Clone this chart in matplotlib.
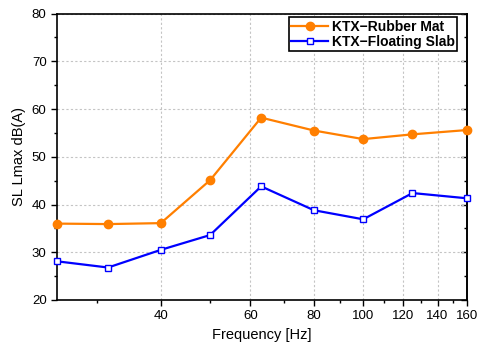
import matplotlib
matplotlib.use('Agg')
import matplotlib.pyplot as plt
import matplotlib.ticker as mticker

plt.rcParams['font.family'] = ['Liberation Sans', 'DejaVu Sans']

# 1/3 octave band centre frequencies
freq = [25, 31.5, 40, 50, 63, 80, 100, 125, 160]
rubber_mat = [36.0, 35.9, 36.1, 45.1, 58.2, 55.5, 53.7, 54.7, 55.6]
floating_slab = [28.1, 26.8, 30.5, 33.6, 43.8, 38.8, 36.9, 42.4, 41.3]

x_ticks = [40, 60, 80, 100, 120, 140, 160]
x_minor = [30, 50, 70, 90, 110, 130, 150]

fig = plt.figure(figsize=(4.79, 3.48), dpi=100)
ax = fig.add_axes([0.119, 0.138, 0.856, 0.823])

ax.plot(freq, rubber_mat, '-o', color='#ff7f00', lw=1.6, ms=6,
        label='KTX−Rubber Mat', clip_on=False, zorder=3)
ax.plot(freq, floating_slab, '-s', color='#0000ff', lw=1.6, ms=5,
        mfc='white', mec='#0000ff', mew=1.0,
        label='KTX−Floating Slab', clip_on=False, zorder=3)

ax.set_xscale('log')
ax.set_xlim(25, 160)
ax.set_ylim(20, 80)
ax.xaxis.set_major_locator(mticker.FixedLocator(x_ticks))
ax.xaxis.set_major_formatter(mticker.FixedFormatter([str(t) for t in x_ticks]))
ax.xaxis.set_minor_locator(mticker.FixedLocator(x_minor))
ax.xaxis.set_minor_formatter(mticker.NullFormatter())
ax.yaxis.set_major_locator(mticker.MultipleLocator(10))
ax.yaxis.set_minor_locator(mticker.MultipleLocator(5))

ax.grid(True, which='major', color='#c4c4c4', linestyle=(0, (2, 2)), lw=0.8)
ax.set_axisbelow(True)

ax.tick_params(axis='both', which='both', direction='out', labelsize=9.5,
               colors='black')
ax.tick_params(which='major', length=4, width=1)
ax.tick_params(which='minor', length=2.5, width=1)
# mirrored ticks on the right side, pointing inward
ax_r = ax.secondary_yaxis('right')
ax_r.yaxis.set_major_locator(mticker.MultipleLocator(10))
ax_r.yaxis.set_minor_locator(mticker.MultipleLocator(5))
ax_r.tick_params(which='both', direction='in', labelright=False)
ax_r.tick_params(which='major', length=4, width=1)
ax_r.tick_params(which='minor', length=2.5, width=1)
ax_r.spines['right'].set_linewidth(1.2)
for s in ax.spines.values():
    s.set_linewidth(1.2)

ax.set_xlabel('Frequency [Hz]', fontsize=10.5, labelpad=4)
ax.set_ylabel('SL Lmax dB(A)', fontsize=10.5, labelpad=4)

leg = ax.legend(loc='upper right', bbox_to_anchor=(0.985, 1.0),
                prop={'weight': 'bold', 'size': 10}, frameon=True,
                fancybox=False, edgecolor='black', borderpad=0.2,
                labelspacing=0.05, handlelength=2.6, handletextpad=0.3,
                borderaxespad=0.25, framealpha=1)
leg.get_frame().set_linewidth(1.2)

fig.savefig('out.png', dpi=100)
